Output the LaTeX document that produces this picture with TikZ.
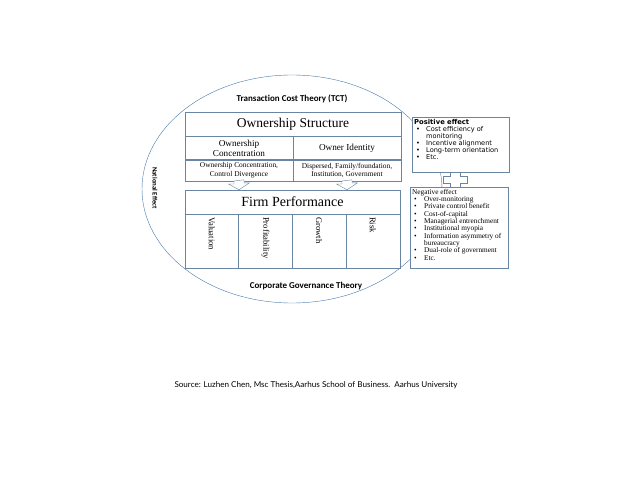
\documentclass[tikz,border=0pt]{standalone}
\usepackage{fontspec}
\setmainfont{Liberation Serif}
\newfontfamily\calib[Ligatures=NoCommon]{Carlito}
\newfontfamily\verd{DejaVu Sans}
\newfontfamily\gill{Lato}
\usetikzlibrary{calc}
\definecolor{tblline}{RGB}{104,134,164}
\definecolor{ovalline}{RGB}{74,122,172}
\newcommand{\bul}{\makebox[12pt][l]{\hspace{2pt}\textbullet}}
\newcommand{\ind}{\hspace*{12pt}}
\newcommand{\fs}[2]{\fontsize{#1}{#2}\selectfont}

\begin{document}
\begin{tikzpicture}[x=1pt, y=-1pt,
  cell/.style={draw=tblline, fill=white, inner sep=1pt, align=center},
  theory/.style={font=\calib\bfseries\fs{9}{10}},
  blk/.style={draw=tblline, fill=white, line join=miter},
  oval/.style={draw=ovalline, thin}]
\useasboundingbox (0,0) rectangle (638,479);

% theories round the framework
\draw[oval] (292,189) ellipse [x radius=150pt, y radius=114pt];
\node[theory] (tct) at (292,99) {Transaction Cost Theory (TCT)};
\node[theory] (cgt) at (306,286) {Corporate Governance Theory};
\node[font=\calib\bfseries\fs{6.8}{7}, rotate=-90] (nat) at (155,188) {National Effect};

% ownership structure
\node[cell, minimum width=216pt, minimum height=24pt, font=\fs{13.5}{15}] (os) at (293,124) {Ownership Structure};
\node[cell, anchor=north west, minimum width=108pt, minimum height=23pt, font=\fs{9.2}{10}] (oc) at (os.south west) {Ownership\\Concentration};
\node[cell, anchor=north east, minimum width=108pt, minimum height=23pt, font=\fs{9.2}{10}] (oi) at (os.south east) {Owner Identity};
\node[cell, anchor=north west, minimum width=108pt, minimum height=21pt, font=\fs{7.4}{8.4}] (ocd) at (oc.south west) {Ownership Concentration,\\Control Divergence};
\node[cell, anchor=north east, minimum width=108pt, minimum height=21pt, font=\fs{7.4}{8.4}] (oid) at (oi.south east) {Dispersed, Family/foundation,\\Institution, Government};

% firm performance
\node[cell, minimum width=215pt, minimum height=24pt, font=\fs{14}{15}] (fp) at (292.5,202) {Firm Performance};
\foreach \lab [count=\i] in {Valuation, Profitability, Growth, Risk}
  \node[cell, rotate=-90, minimum width=54pt, minimum height=53.75pt, text width=48pt,
        align=left, font=\fs{8.6}{9}] (k\i) at ($(fp.south west)+(53.75*\i-26.875,27)$) {\lab};

% hollow arrows between the tables
\foreach \c in {ocd, oid}
  \draw[blk] ([xshift=-5pt]\c.south) -- ++(0,3) -- ++(-5.5,0) -- (\c.south |- fp.north)
    -- ++(10.5,-7) -- ++(-5.5,0) -- ++(0,-3) -- cycle;

% effects
\node[cell, anchor=north west, inner sep=2pt, align=left, font=\verd\fs{6.6}{7.1}] (pos) at (412,117)
  {\parbox[c][51pt][t]{93pt}{{\bfseries\fs{6.8}{7.1}Positive effect}\\
   \bul Cost efficiency of\\ \ind monitoring\\
   \bul Incentive alignment\\
   \bul Long-term orientation\\
   \bul Etc.}};
\node[cell, anchor=north west, inner sep=2pt, align=left, font=\fs{7.3}{7.3}] (neg) at (410,187)
  {\parbox[c][77pt][t]{94pt}{Negative effect\\
   \bul Over-monitoring\\
   \bul Private control benefit\\
   \bul Cost-of-capital\\
   \bul Managerial entrenchment\\
   \bul Institutional myopia\\
   \bul Information asymmetry of\\ \ind bureaucracy\\
   \bul Dual-role of government\\
   \bul Etc.}};
\draw[blk, shift={(455,179.5)}] (-5,-7.5) -- (5,-7.5) -- (5,-3.5) -- (12,-3.5) -- (12,3.5)
  -- (5,3.5) -- (5,7.5) -- (-5,7.5) -- (-5,3.5) -- (-12,3.5) -- (-12,-3.5) -- (-5,-3.5) -- cycle;

% source
\node[font=\gill\fs{8.1}{9}] (src) at (316,385)
  {Source: Luzhen Chen, Msc Thesis,Aarhus School of Business.\ \ Aarhus University};
\end{tikzpicture}
\end{document}
